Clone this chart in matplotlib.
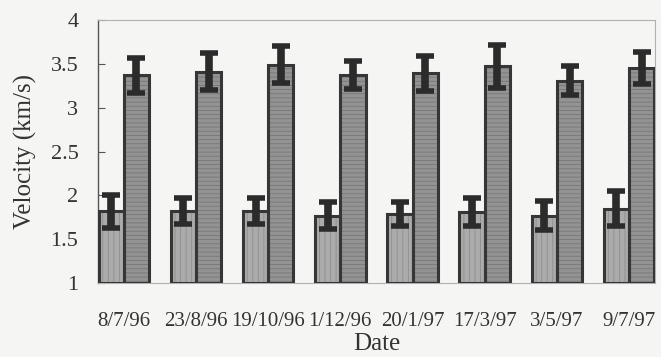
import numpy as np
import matplotlib
matplotlib.use("Agg")
import matplotlib.pyplot as plt

# values (km/s)
dates = ["8/7/96", "23/8/96", "19/10/96", "1/12/96", "20/1/97", "17/3/97", "3/5/97", "9/7/97"]
vel_low = [1.82, 1.82, 1.82, 1.77, 1.79, 1.81, 1.77, 1.85]
err_low = [0.19, 0.15, 0.15, 0.15, 0.14, 0.16, 0.17, 0.20]
vel_high = [3.37, 3.41, 3.49, 3.37, 3.39, 3.47, 3.31, 3.45]
err_high = [0.20, 0.21, 0.21, 0.16, 0.20, 0.25, 0.17, 0.18]

plt.rcParams['font.family'] = ['Liberation Serif', 'DejaVu Serif']
plt.rcParams['hatch.linewidth'] = 0.6

bg = "#f5f5f3"
edge = "#363636"
x = np.arange(len(dates))
w = 0.35

fig = plt.figure(figsize=(6.61, 3.57), dpi=100, facecolor=bg)
ax = fig.add_axes([0.148, 0.207, 0.843, 0.737])
ax.set_facecolor(bg)

# fills with line texture, then outlines on top
ax.bar(x - w / 2, np.array(vel_low) - 1, w, bottom=1, color="#ababab",
       hatch="|||", edgecolor="#8e8e8e", linewidth=0, zorder=2)
ax.bar(x + w / 2, np.array(vel_high) - 1, w, bottom=1, color="#939393",
       hatch="----", edgecolor="#777777", linewidth=0, zorder=2)
ax.bar(x - w / 2, np.array(vel_low) - 1, w, bottom=1, fill=False,
       edgecolor=edge, linewidth=2.2, zorder=3)
ax.bar(x + w / 2, np.array(vel_high) - 1, w, bottom=1, fill=False,
       edgecolor=edge, linewidth=2.2, zorder=3)

for xs, v, e in [(x - w / 2, vel_low, err_low), (x + w / 2, vel_high, err_high)]:
    ax.errorbar(xs, v, yerr=e, fmt="none", ecolor="#2b2b2b", elinewidth=5.5,
                capsize=6.5, capthick=4, zorder=4)

ax.set_xlim(-w - 0.01, len(dates) - 1 + w + 0.01)
ax.set_ylim(1, 4)
ax.set_yticks([1, 1.5, 2, 2.5, 3, 3.5, 4])
ax.set_yticklabels(["1", "1.5", "2", "2.5", "3", "3.5", "4"])
ax.set_xticks(x)
ax.set_xticklabels(dates)

ax.tick_params(axis="y", direction="in", length=5, width=0.8, color="#555555",
               pad=14, labelsize=16, labelcolor="#333333")
ax.tick_params(axis="x", length=0, pad=21, labelsize=15, labelcolor="#333333")

for side in ["top", "right", "bottom"]:
    ax.spines[side].set_color("#b0b0b0")
    ax.spines[side].set_linewidth(0.8)
ax.spines["left"].set_color("#555555")
ax.spines["left"].set_linewidth(1.0)

ax.set_xlabel("Date", fontsize=18, color="#333333", labelpad=1)
ax.set_ylabel("Velocity (km/s)", fontsize=18, color="#333333", labelpad=10)

fig.savefig("out.png", dpi=100, facecolor=bg)
